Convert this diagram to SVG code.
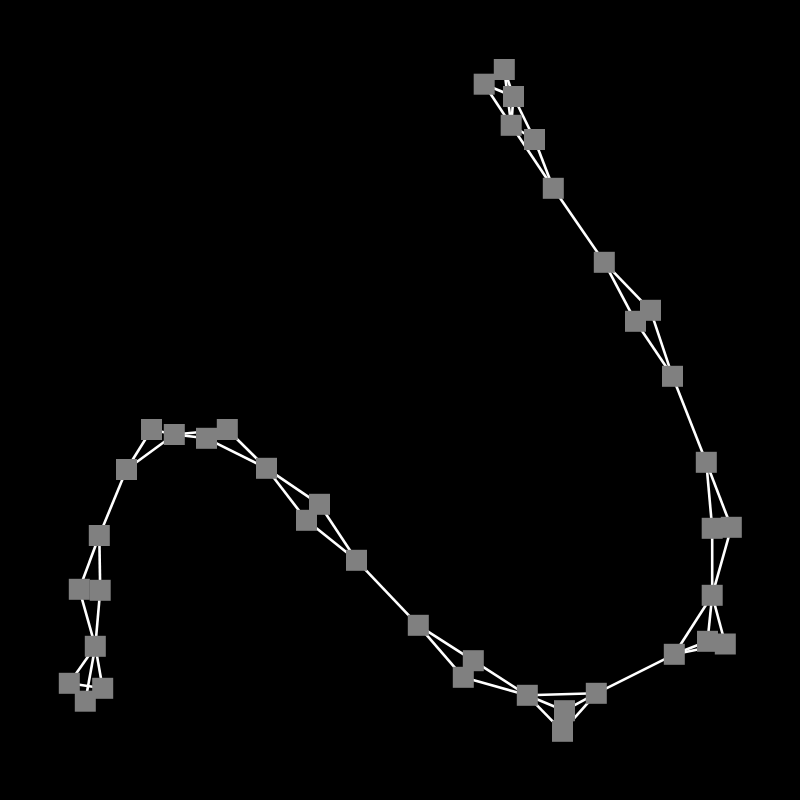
<svg xmlns="http://www.w3.org/2000/svg" width="800" height="800" viewBox="0 0 800 800">
<style>
.e{stroke:#ffffff;stroke-width:2.6;fill:none}
.n{fill:#808080}
</style>
<rect width="800" height="800" fill="#000000"/>
<g id="edges">
<line class="e" x1="504.3" y1="69.5" x2="513.5" y2="96.5"/>
<line class="e" x1="504.3" y1="69.5" x2="511.2" y2="125.3"/>
<line class="e" x1="484.2" y1="84.2" x2="513.5" y2="96.5"/>
<line class="e" x1="484.2" y1="84.2" x2="511.2" y2="125.3"/>
<line class="e" x1="513.5" y1="96.5" x2="511.2" y2="125.3"/>
<line class="e" x1="513.5" y1="96.5" x2="534.5" y2="139.5"/>
<line class="e" x1="511.2" y1="125.3" x2="534.5" y2="139.5"/>
<line class="e" x1="511.2" y1="125.3" x2="553.3" y2="188.3"/>
<line class="e" x1="534.5" y1="139.5" x2="553.3" y2="188.3"/>
<line class="e" x1="553.3" y1="188.3" x2="604.3" y2="262.3"/>
<line class="e" x1="604.3" y1="262.3" x2="650.5" y2="310.3"/>
<line class="e" x1="604.3" y1="262.3" x2="635.5" y2="321.3"/>
<line class="e" x1="650.5" y1="310.3" x2="672.5" y2="376.3"/>
<line class="e" x1="635.5" y1="321.3" x2="672.5" y2="376.3"/>
<line class="e" x1="672.5" y1="376.3" x2="706.3" y2="462.3"/>
<line class="e" x1="706.3" y1="462.3" x2="712.2" y2="528.3"/>
<line class="e" x1="706.3" y1="462.3" x2="731.3" y2="527.3"/>
<line class="e" x1="712.2" y1="528.3" x2="712.2" y2="595.3"/>
<line class="e" x1="731.3" y1="527.3" x2="712.2" y2="595.3"/>
<line class="e" x1="712.2" y1="595.3" x2="707.5" y2="641.3"/>
<line class="e" x1="712.2" y1="595.3" x2="725.3" y2="644"/>
<line class="e" x1="712.2" y1="595.3" x2="674.3" y2="654.3"/>
<line class="e" x1="674.3" y1="654.3" x2="707.5" y2="641.3"/>
<line class="e" x1="674.3" y1="654.3" x2="725.3" y2="644"/>
<line class="e" x1="674.3" y1="654.3" x2="596.3" y2="693.3"/>
<line class="e" x1="596.3" y1="693.3" x2="527.3" y2="695.3"/>
<line class="e" x1="596.3" y1="693.3" x2="564.5" y2="710.7"/>
<line class="e" x1="596.3" y1="693.3" x2="562.5" y2="731.3"/>
<line class="e" x1="527.3" y1="695.3" x2="564.5" y2="710.7"/>
<line class="e" x1="527.3" y1="695.3" x2="562.5" y2="731.3"/>
<line class="e" x1="527.3" y1="695.3" x2="473.3" y2="660.7"/>
<line class="e" x1="527.3" y1="695.3" x2="463.3" y2="677.3"/>
<line class="e" x1="473.3" y1="660.7" x2="418.3" y2="625.3"/>
<line class="e" x1="463.3" y1="677.3" x2="418.3" y2="625.3"/>
<line class="e" x1="418.3" y1="625.3" x2="356.5" y2="560.3"/>
<line class="e" x1="356.5" y1="560.3" x2="319.5" y2="504.3"/>
<line class="e" x1="356.5" y1="560.3" x2="306.5" y2="520.3"/>
<line class="e" x1="319.5" y1="504.3" x2="266.5" y2="468.3"/>
<line class="e" x1="306.5" y1="520.3" x2="266.5" y2="468.3"/>
<line class="e" x1="266.5" y1="468.3" x2="206.5" y2="438.3"/>
<line class="e" x1="266.5" y1="468.3" x2="227.3" y2="429.5"/>
<line class="e" x1="174.3" y1="434.5" x2="206.5" y2="438.3"/>
<line class="e" x1="174.3" y1="434.5" x2="227.3" y2="429.5"/>
<line class="e" x1="174.3" y1="434.5" x2="151.5" y2="429.5"/>
<line class="e" x1="174.3" y1="434.5" x2="126.5" y2="469.5"/>
<line class="e" x1="151.5" y1="429.5" x2="126.5" y2="469.5"/>
<line class="e" x1="126.5" y1="469.5" x2="99.3" y2="535.5"/>
<line class="e" x1="99.3" y1="535.5" x2="79.3" y2="589.3"/>
<line class="e" x1="99.3" y1="535.5" x2="100.2" y2="590.3"/>
<line class="e" x1="79.3" y1="589.3" x2="95.3" y2="646.3"/>
<line class="e" x1="100.2" y1="590.3" x2="95.3" y2="646.3"/>
<line class="e" x1="95.3" y1="646.3" x2="69.3" y2="683.3"/>
<line class="e" x1="95.3" y1="646.3" x2="102.7" y2="688.3"/>
<line class="e" x1="95.3" y1="646.3" x2="85.3" y2="701.2"/>
<line class="e" x1="69.3" y1="683.3" x2="102.7" y2="688.3"/>
</g>
<g id="nA"><rect class="n" x="493.8" y="59" width="21" height="21"/></g>
<g id="nB"><rect class="n" x="473.7" y="73.7" width="21" height="21"/></g>
<g id="nC"><rect class="n" x="503" y="86" width="21" height="21"/></g>
<g id="nD"><rect class="n" x="500.7" y="114.8" width="21" height="21"/></g>
<g id="nE"><rect class="n" x="524" y="129" width="21" height="21"/></g>
<g id="nF"><rect class="n" x="542.8" y="177.8" width="21" height="21"/></g>
<g id="nG"><rect class="n" x="593.8" y="251.8" width="21" height="21"/></g>
<g id="nH"><rect class="n" x="640" y="299.8" width="21" height="21"/></g>
<g id="nI"><rect class="n" x="625" y="310.8" width="21" height="21"/></g>
<g id="nJ"><rect class="n" x="662" y="365.8" width="21" height="21"/></g>
<g id="nK"><rect class="n" x="695.8" y="451.8" width="21" height="21"/></g>
<g id="nL"><rect class="n" x="701.7" y="517.8" width="21" height="21"/></g>
<g id="nM"><rect class="n" x="720.8" y="516.8" width="21" height="21"/></g>
<g id="nN"><rect class="n" x="701.7" y="584.8" width="21" height="21"/></g>
<g id="nO"><rect class="n" x="697" y="630.8" width="21" height="21"/></g>
<g id="nP"><rect class="n" x="714.8" y="633.5" width="21" height="21"/></g>
<g id="nQ"><rect class="n" x="663.8" y="643.8" width="21" height="21"/></g>
<g id="nV"><rect class="n" x="585.8" y="682.8" width="21" height="21"/></g>
<g id="nW"><rect class="n" x="554" y="700.2" width="21" height="21"/></g>
<g id="nX"><rect class="n" x="552" y="720.8" width="21" height="21"/></g>
<g id="nU"><rect class="n" x="516.8" y="684.8" width="21" height="21"/></g>
<g id="nS"><rect class="n" x="462.8" y="650.2" width="21" height="21"/></g>
<g id="nT"><rect class="n" x="452.8" y="666.8" width="21" height="21"/></g>
<g id="nR"><rect class="n" x="407.8" y="614.8" width="21" height="21"/></g>
<g id="nBI"><rect class="n" x="346" y="549.8" width="21" height="21"/></g>
<g id="nBG"><rect class="n" x="309" y="493.8" width="21" height="21"/></g>
<g id="nBH"><rect class="n" x="296" y="509.8" width="21" height="21"/></g>
<g id="nBF"><rect class="n" x="256" y="457.8" width="21" height="21"/></g>
<g id="nBD"><rect class="n" x="216.8" y="419" width="21" height="21"/></g>
<g id="nBC"><rect class="n" x="196" y="427.8" width="21" height="21"/></g>
<g id="nBA"><rect class="n" x="141" y="419" width="21" height="21"/></g>
<g id="nBB"><rect class="n" x="163.8" y="424" width="21" height="21"/></g>
<g id="nBE"><rect class="n" x="116" y="459" width="21" height="21"/></g>
<g id="nY"><rect class="n" x="88.8" y="525" width="21" height="21"/></g>
<g id="nZ1"><rect class="n" x="68.8" y="578.8" width="21" height="21"/></g>
<g id="nZ2"><rect class="n" x="89.7" y="579.8" width="21" height="21"/></g>
<g id="nAA"><rect class="n" x="84.8" y="635.8" width="21" height="21"/></g>
<g id="nAB"><rect class="n" x="58.8" y="672.8" width="21" height="21"/></g>
<g id="nAC"><rect class="n" x="92.2" y="677.8" width="21" height="21"/></g>
<g id="nAD"><rect class="n" x="74.8" y="690.7" width="21" height="21"/></g>
</svg>
